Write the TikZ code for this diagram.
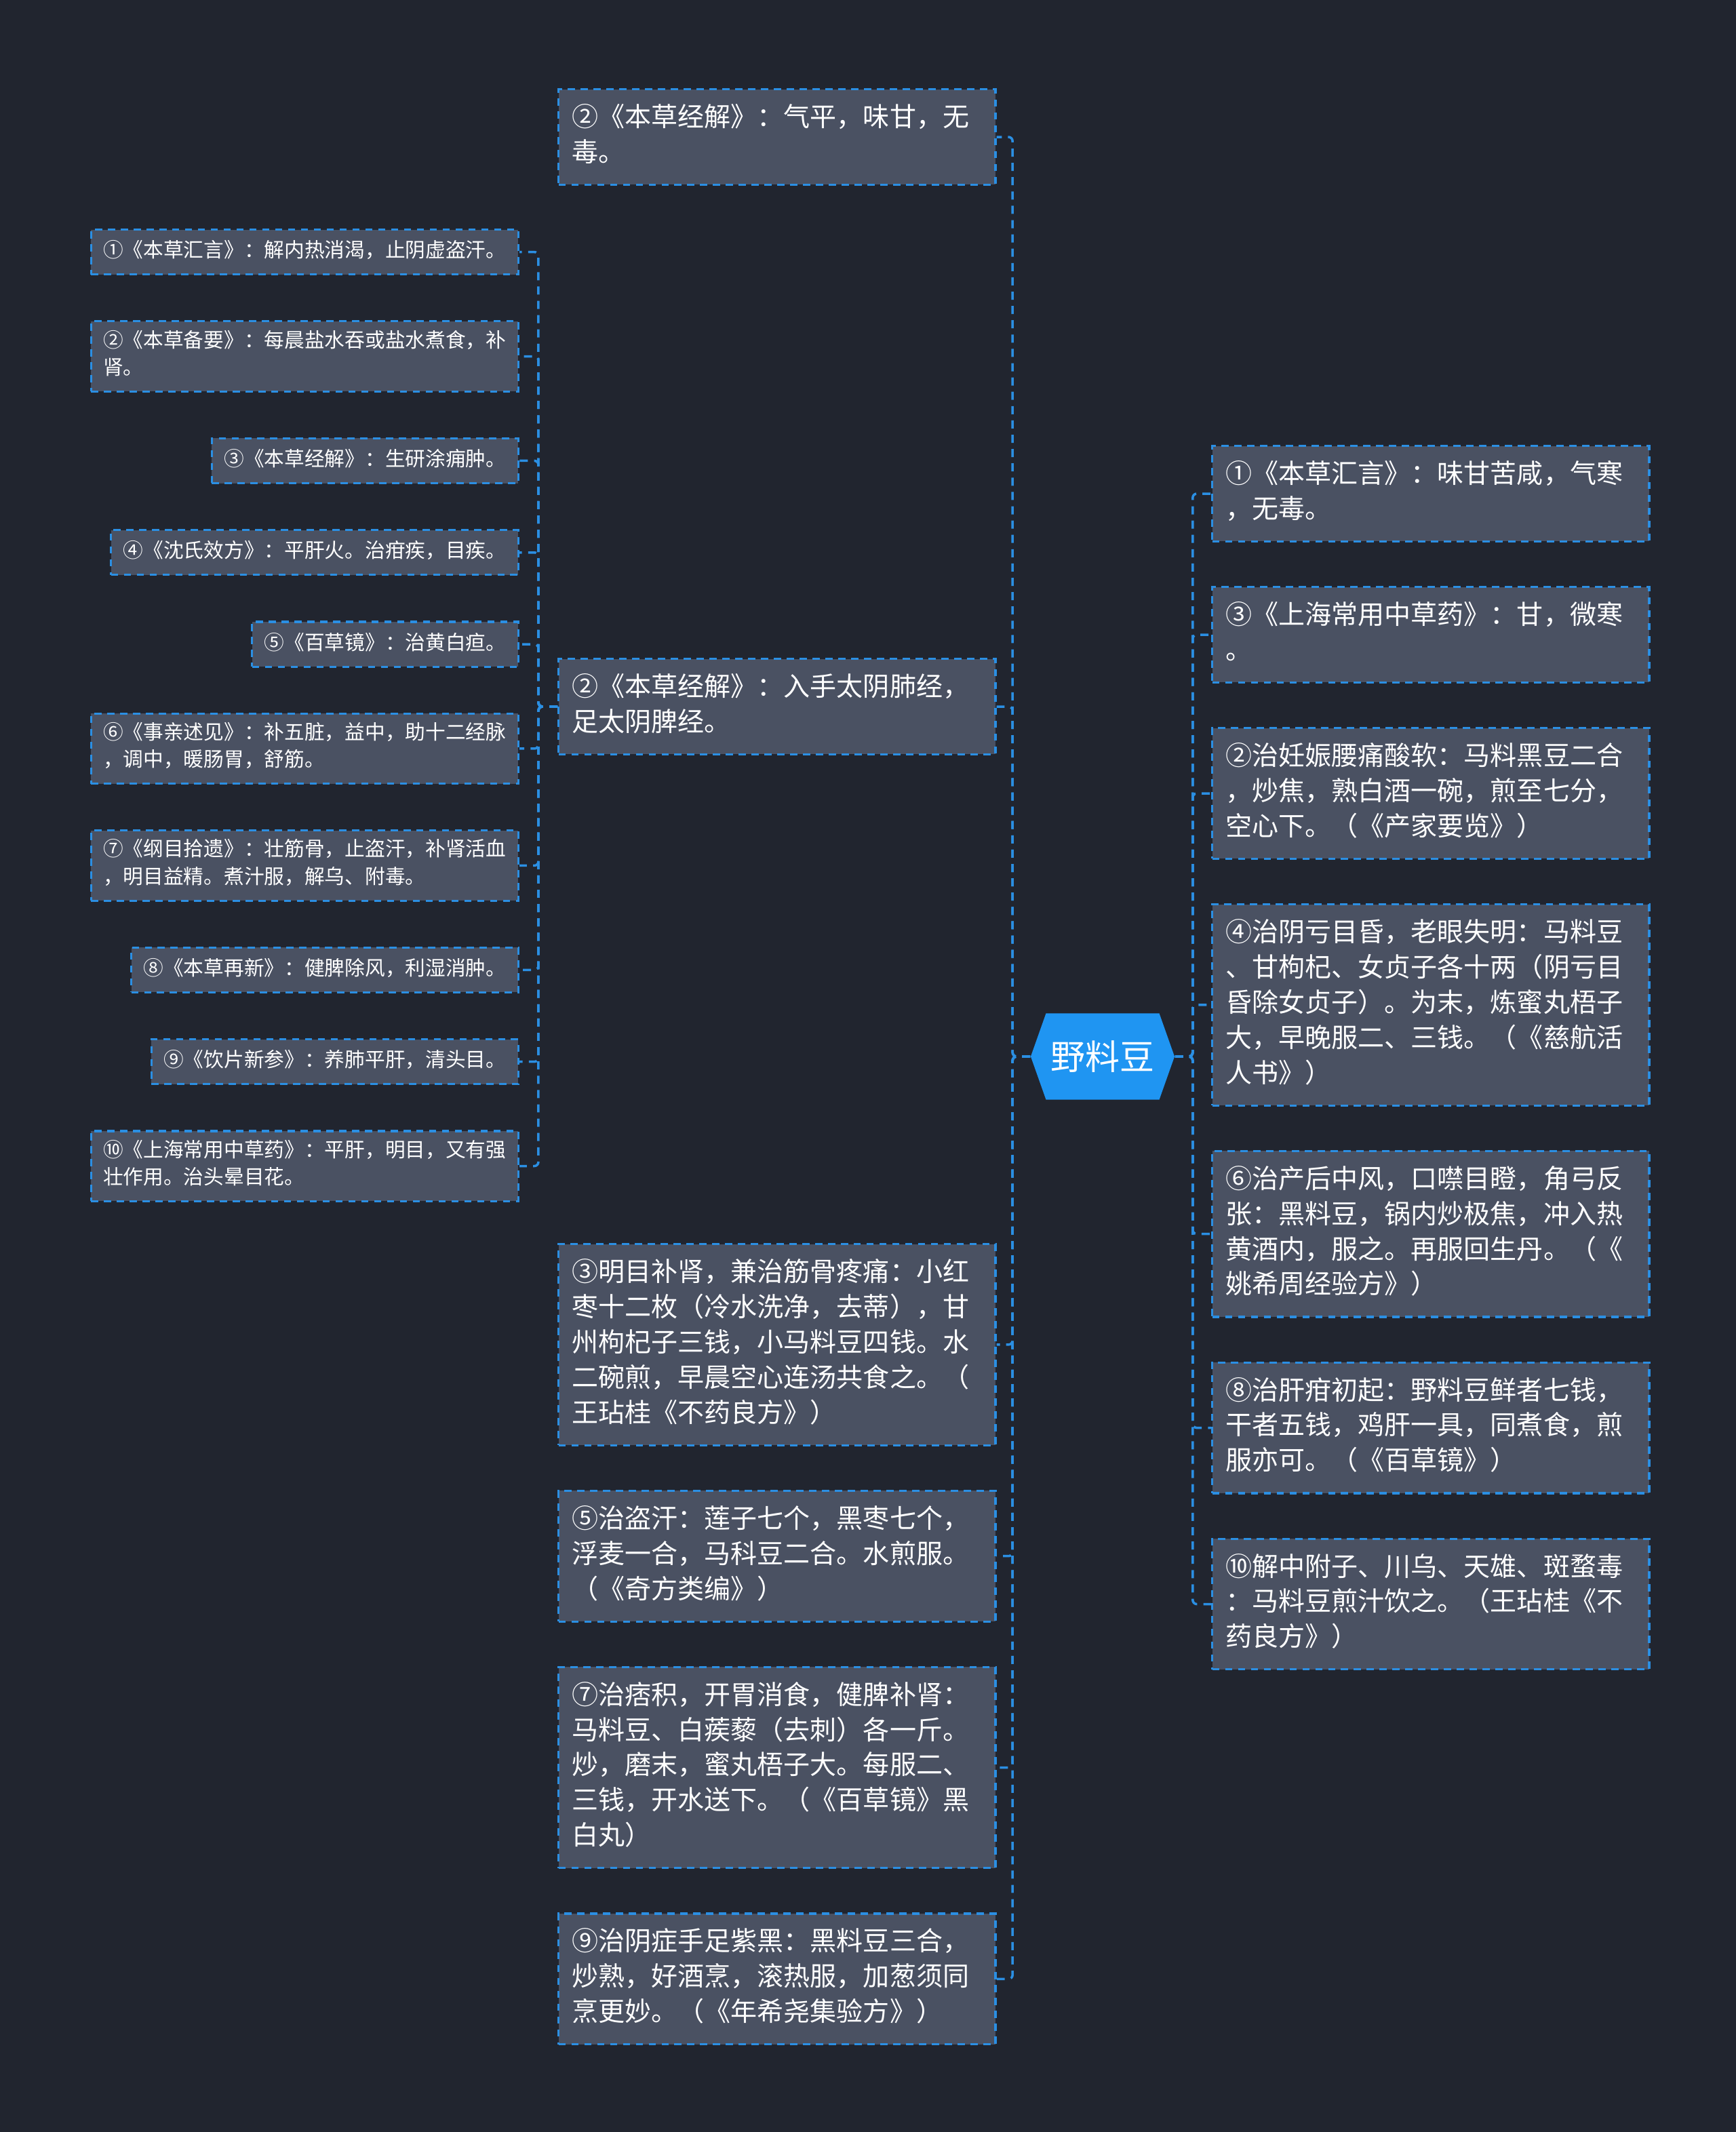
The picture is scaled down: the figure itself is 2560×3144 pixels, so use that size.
\documentclass[tikz,border=0pt]{standalone}
\usepackage{fontspec}
\newfontfamily\cjk{Noto Sans CJK SC}
\usetikzlibrary{positioning,shapes.symbols}

\definecolor{bgdark}{HTML}{21252F}
\definecolor{boxgray}{HTML}{4A5162}
\definecolor{linkblue}{HTML}{2B8FE3}
\definecolor{rootblue}{HTML}{1F95F2}

\tikzset{
  link/.style={draw=linkblue, line width=1pt, dash pattern=on 3.4pt off 2.6pt, rounded corners=0.06cm},
  topic/.style={draw=linkblue, line width=0.9pt, dash pattern=on 3pt off 2.4pt, fill=boxgray, text=white,
    font=\cjk\fontsize{11.1}{14.76}\selectfont, align=left, text width=6.04cm,
    inner xsep=0.2cm, inner ysep=0.185cm, execute at begin node=\strut, execute at end node=\strut},
  subtopic/.style={draw=linkblue, line width=0.9pt, dash pattern=on 3pt off 2.4pt, fill=boxgray, text=white,
    font=\cjk\fontsize{8.45}{11.4}\selectfont, align=left,
    inner xsep=0.18cm, inner ysep=0.13cm, execute at begin node=\strut, execute at end node=\strut},
  rootbox/.style={shape=signal, signal to=west and east, signal pointer angle=141, fill=rootblue, text=white,
    font=\cjk\fontsize{14.5}{17}\selectfont, minimum width=2.12cm, minimum height=1.27cm, inner sep=0pt}
}

\begin{document}
\begin{tikzpicture}[x=0.01cm, y=-0.01cm]
    % Sfondo
    \fill[bgdark] (0,0) rectangle (2560,3144);
    \useasboundingbox (0,0) rectangle (2560,3144);

    % Nodo centrale
    \node[rootbox] (root) at (1626,1558) {野料豆};
    \coordinate (trunkL) at ([xshift=-0.26cm]root.west);
    \coordinate (trunkR) at ([xshift=0.26cm]root.east);

    % Sottorami del secondo argomento
    \node[subtopic, anchor=north east] (c1) at (766,337) {①《本草汇言》：解内热消渴，止阴虚盗汗。};
    \node[subtopic, below=0.66cm of c1.south east, anchor=north east] (c2) {②《本草备要》：每晨盐水吞或盐水煮食，补\\肾。};
    \node[subtopic, below=0.66cm of c2.south east, anchor=north east] (c3) {③《本草经解》：生研涂痈肿。};
    \node[subtopic, below=0.66cm of c3.south east, anchor=north east] (c4) {④《沈氏效方》：平肝火。治疳疾，目疾。};
    \node[subtopic, below=0.66cm of c4.south east, anchor=north east] (c5) {⑤《百草镜》：治黄白疸。};
    \node[subtopic, below=0.66cm of c5.south east, anchor=north east] (c6) {⑥《事亲述见》：补五脏，益中，助十二经脉\\，调中，暖肠胃，舒筋。};
    \node[subtopic, below=0.66cm of c6.south east, anchor=north east] (c7) {⑦《纲目拾遗》：壮筋骨，止盗汗，补肾活血\\，明目益精。煮汁服，解乌、附毒。};
    \node[subtopic, below=0.66cm of c7.south east, anchor=north east] (c8) {⑧《本草再新》：健脾除风，利湿消肿。};
    \node[subtopic, below=0.66cm of c8.south east, anchor=north east] (c9) {⑨《饮片新参》：养肺平肝，清头目。};
    \node[subtopic, below=0.66cm of c9.south east, anchor=north east] (c10) {⑩《上海常用中草药》：平肝，明目，又有强\\壮作用。治头晕目花。};

    % Rami a sinistra
    \node[topic, anchor=north west] (L1) at (822,130) {②《本草经解》：气平，味甘，无\\毒。};
    \node[topic, anchor=west] (L2) at (822,1042) {②《本草经解》：入手太阴肺经，\\足太阴脾经。};
    \node[topic, anchor=north west] (L3) at (822,1833) {③明目补肾，兼治筋骨疼痛：小红\\枣十二枚（冷水洗净，去蒂），甘\\州枸杞子三钱，小马料豆四钱。水\\二碗煎，早晨空心连汤共食之。（\\王玷桂《不药良方》）};
    \node[topic, below=0.64cm of L3.south west, anchor=north west] (L4) {⑤治盗汗：莲子七个，黑枣七个，\\浮麦一合，马科豆二合。水煎服。\\（《奇方类编》）};
    \node[topic, below=0.64cm of L4.south west, anchor=north west] (L5) {⑦治痞积，开胃消食，健脾补肾：\\马料豆、白蒺藜（去刺）各一斤。\\炒，磨末，蜜丸梧子大。每服二、\\三钱，开水送下。（《百草镜》黑\\白丸）};
    \node[topic, below=0.64cm of L5.south west, anchor=north west] (L6) {⑨治阴症手足紫黑：黑料豆三合，\\炒熟，好酒烹，滚热服，加葱须同\\烹更妙。（《年希尧集验方》）};
    \coordinate (trunkC) at ([xshift=-0.28cm]L2.west);

    % Rami a destra
    \node[topic, anchor=north west] (R1) at (1786,656) {①《本草汇言》：味甘苦咸，气寒\\，无毒。};
    \node[topic, below=0.64cm of R1.south west, anchor=north west] (R2) {③《上海常用中草药》：甘，微寒\\。};
    \node[topic, below=0.64cm of R2.south west, anchor=north west] (R3) {②治妊娠腰痛酸软：马料黑豆二合\\，炒焦，熟白酒一碗，煎至七分，\\空心下。（《产家要览》）};
    \node[topic, below=0.64cm of R3.south west, anchor=north west] (R4) {④治阴亏目昏，老眼失明：马料豆\\、甘枸杞、女贞子各十两（阴亏目\\昏除女贞子）。为末，炼蜜丸梧子\\大，早晚服二、三钱。（《慈航活\\人书》）};
    \node[topic, below=0.64cm of R4.south west, anchor=north west] (R5) {⑥治产后中风，口噤目瞪，角弓反\\张：黑料豆，锅内炒极焦，冲入热\\黄酒内，服之。再服回生丹。（《\\姚希周经验方》）};
    \node[topic, below=0.64cm of R5.south west, anchor=north west] (R6) {⑧治肝疳初起：野料豆鲜者七钱，\\干者五钱，鸡肝一具，同煮食，煎\\服亦可。（《百草镜》）};
    \node[topic, below=0.64cm of R6.south west, anchor=north west] (R7) {⑩解中附子、川乌、天雄、斑蝥毒\\：马料豆煎汁饮之。（王玷桂《不\\药良方》）};

    % Collegamenti
    \foreach \n in {L1,L2,L3,L4,L5,L6}
        \draw[link] (root.west) -- (trunkL) |- (\n.east);
    \foreach \n in {R1,R2,R3,R4,R5,R6,R7}
        \draw[link] (root.east) -- (trunkR) |- (\n.west);
    \foreach \n in {c1,c2,c3,c4,c5,c6,c7,c8,c9,c10}
        \draw[link] (L2.west) -- (trunkC) |- (\n.east);
\end{tikzpicture}
\end{document}
